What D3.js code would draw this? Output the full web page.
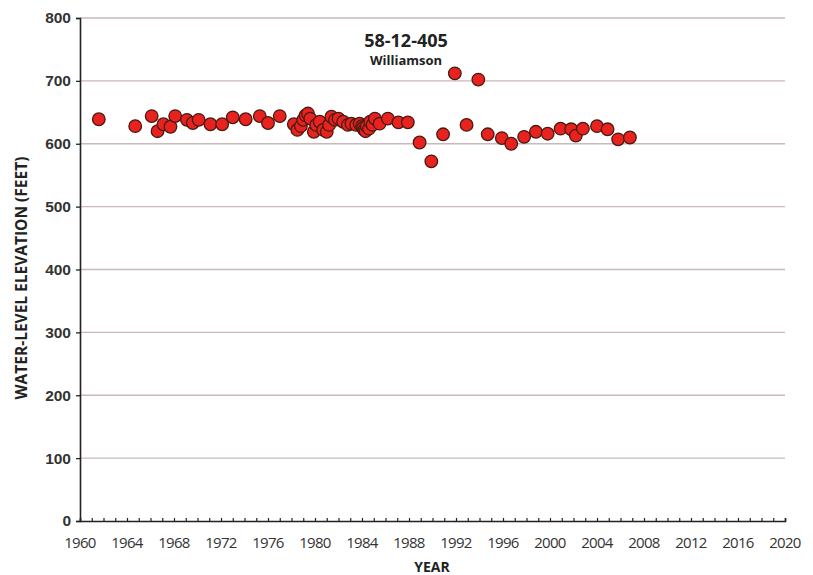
<!DOCTYPE html>
<html>
<head>
<meta charset="utf-8">
<script src="https://cdn.jsdelivr.net/npm/d3@7"></script>
<style>
  body { margin: 0; background: #fff; }
  svg { font-family: "Open Sans", "Liberation Sans", sans-serif; }
</style>
</head>
<body>
<div id="chart"></div>
<script>
// Measurement dates (decimal years) and water-level elevations (feet)
const years = [
  1961.6, 1964.7, 1966.1, 1966.6, 1967.1, 1967.7, 1968.1, 1969.1, 1969.6, 1970.1,
  1971.1, 1972.1, 1973.0, 1974.1, 1975.3, 1976.0, 1977.0,
  1978.2, 1978.5, 1978.8, 1979.0, 1979.2, 1979.4, 1979.6, 1979.9, 1980.1, 1980.4,
  1980.7, 1981.0, 1981.2, 1981.4, 1981.7, 1982.0, 1982.4, 1982.8, 1983.1, 1983.5,
  1983.8, 1984.0, 1984.1, 1984.2, 1984.3, 1984.4, 1984.6, 1984.7, 1984.9, 1985.1,
  1985.5, 1986.2, 1987.1, 1987.9, 1988.9, 1989.9, 1990.9, 1991.9, 1992.9, 1993.9,
  1994.7, 1995.9, 1996.7, 1997.8, 1998.8, 1999.8, 2000.9, 2001.8, 2002.2, 2002.8,
  2004.0, 2004.9, 2005.8, 2006.8
];
const elevations = [
  639, 628, 644, 620, 631, 627, 644, 638, 633, 638,
  631, 631, 642, 639, 644, 633, 644,
  631, 622, 628, 638, 645, 648, 640, 619, 630, 635,
  622, 619, 630, 643, 638, 640, 635, 630, 632, 630,
  632, 628, 625, 622, 620, 628, 624, 635, 630, 640,
  632, 640, 634, 634, 602, 572, 615, 712, 630, 702,
  615, 609, 600, 611, 619, 616, 624, 623, 613, 624,
  628, 623, 607, 610
];
const yTicks = [0, 100, 200, 300, 400, 500, 600, 700, 800];
const xTicks = d3.range(1960, 2021, 4);
const wellId = "58-12-405";
const county = "Williamson";

const data = years.map((yr, i) => ({ year: yr, value: elevations[i] }));

const width = 813, height = 575;
const margin = { top: 18, right: 28, bottom: 54, left: 80 };

const svg = d3.select("#chart").append("svg")
  .attr("width", width)
  .attr("height", height);

const x = d3.scaleLinear().domain([1960, 2020]).range([margin.left, width - margin.right]);
const y = d3.scaleLinear().domain([0, 800]).range([height - margin.bottom, margin.top]);

// horizontal gridlines
svg.append("g")
  .selectAll("line")
  .data(yTicks.filter(d => d > 0))
  .join("line")
  .attr("x1", margin.left)
  .attr("x2", width - margin.right)
  .attr("y1", d => y(d))
  .attr("y2", d => y(d))
  .attr("stroke", "#c9b9b9")
  .attr("stroke-width", 1.3);

// y axis
const yAxis = svg.append("g")
  .attr("transform", `translate(${margin.left},0)`)
  .call(d3.axisLeft(y).tickValues(yTicks).tickSize(4).tickPadding(5));
yAxis.select(".domain").attr("stroke", "#222").attr("stroke-width", 1.6);
yAxis.selectAll(".tick line").attr("stroke", "#222").attr("stroke-width", 1.3);
yAxis.selectAll("text").attr("font-size", 15.5).attr("fill", "#333").attr("font-weight", 600);

// x axis: yearly ticks pointing into the plot
const xAxis = svg.append("g")
  .attr("transform", `translate(0,${y(0)})`)
  .call(d3.axisBottom(x).tickValues(d3.range(1960, 2021, 1)).tickSize(-3).tickFormat(""));
xAxis.select(".domain").attr("stroke", "#222").attr("stroke-width", 1.6);
xAxis.selectAll(".tick line").attr("stroke", "#222").attr("stroke-width", 1.2);

svg.append("g")
  .selectAll("text")
  .data(xTicks)
  .join("text")
  .attr("x", d => x(d))
  .attr("y", y(0) + 26.5)
  .attr("text-anchor", "middle")
  .attr("font-size", 15)
  .attr("fill", "#333")
  .attr("letter-spacing", -0.7)
  .text(d => d);

// data points
svg.append("g")
  .selectAll("circle")
  .data(data)
  .join("circle")
  .attr("cx", d => x(d.year))
  .attr("cy", d => y(d.value))
  .attr("r", 6.3)
  .attr("fill", "#e8231f")
  .attr("stroke", "#4a1a12")
  .attr("stroke-width", 1.3);

// titles
svg.append("text")
  .attr("x", 406).attr("y", 47)
  .attr("text-anchor", "middle")
  .attr("font-size", 18).attr("font-weight", 700).attr("fill", "#222")
  .text(wellId);
svg.append("text")
  .attr("x", 406).attr("y", 65)
  .attr("text-anchor", "middle")
  .attr("font-size", 13).attr("font-weight", 700).attr("fill", "#222")
  .text(county);

// axis labels
svg.append("text")
  .attr("x", 432).attr("y", 572)
  .attr("text-anchor", "middle")
  .attr("font-size", 14).attr("font-weight", 700).attr("fill", "#222")
  .text("YEAR");
svg.append("text")
  .attr("transform", `translate(27,278) rotate(-90)`)
  .attr("text-anchor", "middle")
  .attr("font-size", 15.5).attr("font-weight", 700).attr("fill", "#222")
  .text("WATER-LEVEL ELEVATION (FEET)");
</script>
</body>
</html>
